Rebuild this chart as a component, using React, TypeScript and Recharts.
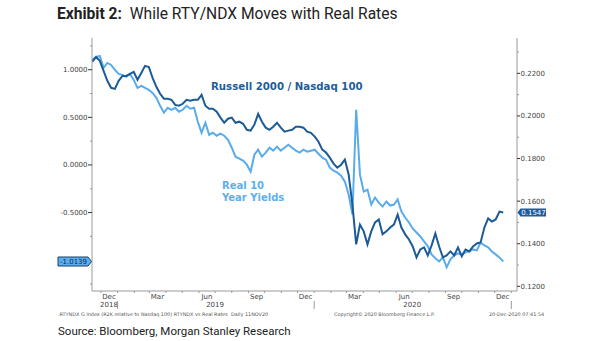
import { LineChart, Line, XAxis, YAxis, ReferenceDot } from 'recharts'

// weekly closes, first one on 15 Nov 2018
const START = Date.UTC(2018, 10, 15)
const WEEK = 7 * 86400000

// Real 10 Year Yields (left axis)
const realYields = [
  1.103, 1.134, 1.145, 1.019, 1.071, 1.05, 0.998, 0.956, 0.946, 0.925,
  0.956, 0.893, 0.809, 0.83, 0.809, 0.788, 0.757, 0.705, 0.621, 0.548,
  0.6, 0.579, 0.6, 0.558, 0.579, 0.621, 0.59, 0.6, 0.453, 0.338,
  0.443, 0.317, 0.338, 0.307, 0.328, 0.307, 0.265, 0.181, 0.087, 0.066,
  0.045, 0.003, -0.07, 0.108, 0.16, 0.087, 0.129, 0.181, 0.15, 0.192,
  0.15, 0.181, 0.213, 0.181, 0.15, 0.129, 0.16, 0.139, 0.15, 0.16,
  0.118, 0.076, 0.055, -0.028, -0.06, -0.081, -0.112, -0.175, -0.311, -0.52,
  0.579, -0.102, -0.28, -0.259, -0.416, -0.342, -0.395, -0.437, -0.384, -0.426,
  -0.416, -0.363, -0.489, -0.552, -0.604, -0.667, -0.709, -0.751, -0.803, -0.855,
  -0.939, -0.981, -1.013, -0.971, -1.075, -0.992, -0.95, -0.929, -0.939, -0.918,
  -0.908, -0.887, -0.897, -0.814, -0.845, -0.866, -0.908, -0.939, -0.971, -1.0139,
]

// Russell 2000 / Nasdaq 100 (right axis)
const rtyNdx = [
  0.2254, 0.2277, 0.2259, 0.2212, 0.2165, 0.2132, 0.2127, 0.2165, 0.2188, 0.2188,
  0.2198, 0.2207, 0.217, 0.2202, 0.2235, 0.223, 0.2179, 0.2137, 0.2104, 0.2081,
  0.2081, 0.2076, 0.2052, 0.2048, 0.2057, 0.2076, 0.2071, 0.2076, 0.2076, 0.2099,
  0.2048, 0.2034, 0.2034, 0.202, 0.1992, 0.1968, 0.1987, 0.1992, 0.1968, 0.1973,
  0.1963, 0.1935, 0.1931, 0.1959, 0.201, 0.1973, 0.1945, 0.1935, 0.1949, 0.1968,
  0.1945, 0.1926, 0.1931, 0.1935, 0.1949, 0.1949, 0.1945, 0.1926, 0.1921, 0.1903,
  0.1879, 0.1842, 0.1828, 0.1804, 0.1776, 0.1757, 0.1771, 0.1795, 0.1725, 0.1584,
  0.1397, 0.149, 0.1458, 0.1397, 0.1458, 0.15, 0.1514, 0.1444, 0.1458, 0.1476,
  0.149, 0.1537, 0.1476, 0.1444, 0.142, 0.1387, 0.1336, 0.1373, 0.1383, 0.1345,
  0.1392, 0.1448, 0.1387, 0.1336, 0.1345, 0.1364, 0.1345, 0.1383, 0.1341, 0.1373,
  0.1364, 0.1387, 0.1401, 0.1406, 0.1476, 0.1519, 0.1504, 0.1514, 0.1551, 0.1547,
]

const MONTHS = ['Jan', 'Feb', 'Mar', 'Apr', 'May', 'Jun', 'Jul', 'Aug', 'Sep', 'Oct', 'Nov', 'Dec']
const LABEL_MONTHS = [11, 2, 5, 8]
const LEFT_TICKS = [-1.25, -0.75, -0.5, -0.25, 0, 0.25, 0.5, 0.75, 1, 1.25]
const RIGHT_TICKS = [0.12, 0.13, 0.14, 0.15, 0.16, 0.17, 0.18, 0.19, 0.2, 0.21, 0.22, 0.23]

const DARK = '#1c5b96'
const LIGHT = '#5aabea'
const AXIS = '#9a9a9a'
const TXT = '#444'
const FONT = '"DejaVu Sans", Verdana, sans-serif'

const data = realYields.map((v, i) => ({ t: START + i * WEEK, real: v, ratio: rtyNdx[i] }))
const last = data[data.length - 1]

const X_DOMAIN = [Date.UTC(2018, 10, 14, 12), Date.UTC(2021, 0, 11, 14)]

// month starts for small ticks, mid-month for labels
const xTicks: number[] = []
for (let y = 2018; y <= 2021; y++) {
  for (let m = 0; m < 12; m++) {
    const t = Date.UTC(y, m, 1)
    if (t > X_DOMAIN[0] && t < X_DOMAIN[1]) xTicks.push(t)
    const mid = Date.UTC(y, m, 16)
    if (LABEL_MONTHS.includes(m) && mid > X_DOMAIN[0] && mid < X_DOMAIN[1]) xTicks.push(mid)
  }
}
xTicks.sort((a, b) => a - b)

function XTick(p: any) {
  const { x, y, payload } = p
  const d = new Date(payload.value)
  const m = d.getUTCMonth()
  const yr = d.getUTCFullYear()
  if (d.getUTCDate() === 1) {
    return (
      <g>
        <line x1={x} x2={x} y1={y} y2={y + 2} stroke={AXIS} />
        {m === 0 && <line x1={x} x2={x} y1={y + 10} y2={y + 18} stroke={AXIS} />}
        {m === 6 && <text x={x} y={y + 15.5} textAnchor="middle" fontSize={7} fontFamily={FONT} fill={TXT}>{yr}</text>}
      </g>
    )
  }
  return (
    <g>
      <text x={x} y={y + 7.5} textAnchor="middle" fontSize={7} fontFamily={FONT} fill={TXT}>{MONTHS[m]}</text>
      {yr === 2018 && <text x={x} y={y + 15.5} textAnchor="middle" fontSize={7} fontFamily={FONT} fill={TXT}>{yr}</text>}
    </g>
  )
}

function LeftTick(p: any) {
  const { x, y, payload } = p
  const v = payload.value
  const major = Math.abs(v * 2 - Math.round(v * 2)) < 1e-6
  if (!major) return <line x1={x - 2} x2={x} y1={y} y2={y} stroke={AXIS} />
  return (
    <g>
      <line x1={x - 4} x2={x} y1={y} y2={y} stroke="#333" />
      <text x={x - 4.5} y={y + 2.5} textAnchor="end" fontSize={7} fontFamily={FONT} fill={TXT}>{v.toFixed(4)}</text>
    </g>
  )
}

function RightTick(p: any) {
  const { x, y, payload } = p
  const v = payload.value
  const major = Math.round(v * 100) % 2 === 0
  if (!major) return <line x1={x} x2={x + 2} y1={y} y2={y} stroke={AXIS} />
  return (
    <g>
      <line x1={x} x2={x + 3} y1={y} y2={y} stroke="#333" />
      <text x={x + 3.5} y={y + 2.5} textAnchor="start" fontSize={7} fontFamily={FONT} fill={TXT}>{v.toFixed(4)}</text>
    </g>
  )
}

const leftBadge = (p: any) => {
  const cy = p.cy
  return (
    <g>
      <polygon points={`58,${cy - 4.5} 88,${cy - 4.5} 91.5,${cy} 88,${cy + 4.5} 58,${cy + 4.5}`} fill="#5aaef0" stroke="#1b3f66" />
      <text x={73.5} y={cy + 2.5} textAnchor="middle" fontSize={7} fontFamily={FONT} fill="#0d2a4a">{last.real.toFixed(4)}</text>
    </g>
  )
}

const rightBadge = (p: any) => {
  const cy = p.cy
  return (
    <g>
      <polygon points={`517.5,${cy} 520.5,${cy - 4} 546,${cy - 4} 546,${cy + 4} 520.5,${cy + 4}`} fill="#1f5c9c" />
      <text x={533.5} y={cy + 2.5} textAnchor="middle" fontSize={7} fontFamily={FONT} fill="#fff">{last.ratio.toFixed(4)}</text>
    </g>
  )
}

const small = { position: 'absolute' as const, top: 311, fontSize: 4.9, fontFamily: FONT, color: '#555', whiteSpace: 'pre' as const, lineHeight: '6px' }

export default function App() {
  return (
    <div style={{ position: 'absolute', left: 0, top: 0, width: 605, height: 341, background: '#fff', overflow: 'hidden' }}>
      <div style={{ position: 'absolute', left: 57, top: 5, fontFamily: 'Roboto, sans-serif', fontSize: 15.6, color: '#222', whiteSpace: 'pre', lineHeight: '18px' }}>
        <span style={{ fontWeight: 700 }}>Exhibit 2:</span>{'  While RTY/NDX Moves with Real Rates'}
      </div>
      <LineChart width={605} height={341} data={data} margin={{ top: 38, right: 0, bottom: 29, left: 0 }}>
        <XAxis dataKey="t" type="number" domain={X_DOMAIN} ticks={xTicks} interval={0} tick={XTick}
          tickLine={false} tickSize={0} tickMargin={0} axisLine={{ stroke: AXIS }} height={21} allowDataOverflow />
        <YAxis yAxisId="l" orientation="left" width={92} domain={[-1.3236, 1.333]} ticks={LEFT_TICKS} interval={0}
          tick={LeftTick} tickLine={false} tickSize={0} tickMargin={0} axisLine={{ stroke: AXIS }} allowDataOverflow />
        <YAxis yAxisId="r" orientation="right" width={88} domain={[0.1178, 0.2366]} ticks={RIGHT_TICKS} interval={0}
          tick={RightTick} tickLine={false} tickSize={0} tickMargin={0} axisLine={{ stroke: AXIS }} allowDataOverflow />
        <Line yAxisId="l" dataKey="real" stroke={LIGHT} strokeWidth={2} dot={false} isAnimationActive={false} type="linear" />
        <Line yAxisId="r" dataKey="ratio" stroke={DARK} strokeWidth={2} dot={false} isAnimationActive={false} type="linear" />
        <ReferenceDot yAxisId="l" x={last.t} y={last.real} shape={leftBadge} />
        <ReferenceDot yAxisId="r" x={last.t} y={last.ratio} shape={rightBadge} />
      </LineChart>
      <div style={{ position: 'absolute', left: 211, top: 81, fontFamily: FONT, fontWeight: 700, fontSize: 10.2, color: '#1f5d98', whiteSpace: 'pre' }}>
        Russell 2000 / Nasdaq 100
      </div>
      <div style={{ position: 'absolute', left: 222, top: 180, fontFamily: FONT, fontWeight: 700, fontSize: 10, color: '#5db0ee', lineHeight: '12px', whiteSpace: 'pre' }}>
        {'Real 10\nYear Yields'}
      </div>
      <div style={{ ...small, left: 58 }}>.RTYNDX G Index (R2K relative to Nasdaq 100) RTYNDX vs Real Rates  Daily 11NOV20</div>
      <div style={{ ...small, left: 334 }}>Copyright© 2020 Bloomberg Finance L.P.</div>
      <div style={{ ...small, left: 489 }}>20-Dec-2020 07:41:54</div>
      <div style={{ position: 'absolute', left: 58, top: 324, fontFamily: 'Roboto, sans-serif', fontSize: 11.5, color: '#222', whiteSpace: 'pre', lineHeight: '14px' }}>
        Source: Bloomberg, Morgan Stanley Research
      </div>
    </div>
  )
}
